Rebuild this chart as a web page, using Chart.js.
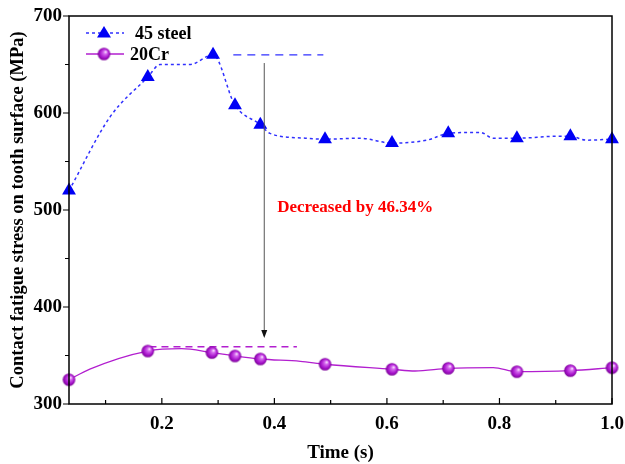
<!DOCTYPE html>
<html>
<head>
<meta charset="utf-8">
<script src="https://cdn.jsdelivr.net/npm/chart.js@4"></script>
<style>
html,body{margin:0;padding:0;background:#fff;}
#wrap{width:625px;height:464px;position:relative;}
</style>
</head>
<body>
<div id="wrap"><canvas id="c" width="625" height="464"></canvas></div>
<script>
// ---- data ----
const steelTime   = [0.035, 0.108, 0.175, 0.197, 0.250, 0.291, 0.330, 0.375, 0.392, 0.455, 0.490, 0.552, 0.609, 0.671, 0.709, 0.766, 0.789, 0.831, 0.903, 0.926, 0.955, 1.0];
const steelStress = [520, 596, 637, 650, 650, 660, 608, 588, 579, 574, 573, 574, 569, 572, 579, 580, 574, 574, 576, 576, 572, 573];
const steelMarkerTimes = [0.035, 0.175, 0.291, 0.330, 0.375, 0.490, 0.609, 0.709, 0.831, 0.926, 1.0];

const crTime   = [0.035, 0.072, 0.175, 0.235, 0.289, 0.330, 0.375, 0.446, 0.490, 0.609, 0.650, 0.709, 0.789, 0.831, 0.926, 1.0];
const crStress = [325, 336, 354.6, 357, 353, 349.5, 346.4, 344, 341, 335.8, 334, 336.8, 337.5, 333.3, 334.4, 337.4];
const crMarkerTimes = [0.035, 0.175, 0.289, 0.330, 0.375, 0.490, 0.609, 0.709, 0.831, 0.926, 1.0];

const steelPeakTime = [0.327, 0.487];
const steelPeakValue = [660, 660];
const crPeakTime = [0.178, 0.44];
const crPeakValue = [359, 359];
const arrowTime = [0.382, 0.382];
const arrowValue = [651.5, 368];

const seriesNames = ['45 steel', '20Cr'];
const annotationText = 'Decreased by 46.34%';
const annotationPoint = [0.405, 502];

const xTickValues = [0.2, 0.4, 0.6, 0.8, 1.0];
const xTickLabels = ['0.2', '0.4', '0.6', '0.8', '1.0'];
const xMinorValues = [0.1, 0.3, 0.5, 0.7, 0.9];
const yTickValues = [300, 400, 500, 600, 700];
const yTickLabels = ['300', '400', '500', '600', '700'];
const yMinorValues = [350, 450, 550, 650];

// ---- styling ----
const FONT = 'Liberation Serif';
const BLUE = '#0000F5';
const BLUE_LINE = '#3030FF';
const PURPLE = '#B21FCF';

function makeSphere(r) {
  const c = document.createElement('canvas');
  const s = Math.ceil(r * 2 + 2);
  c.width = s; c.height = s;
  const g = c.getContext('2d');
  const cx = s / 2, cy = s / 2;
  const grad = g.createRadialGradient(cx + r * 0.3, cy - r * 0.35, r * 0.05, cx, cy, r);
  grad.addColorStop(0, '#FBE6FF');
  grad.addColorStop(0.25, '#D56AEE');
  grad.addColorStop(0.7, '#A814CC');
  grad.addColorStop(1, '#7A0596');
  g.fillStyle = grad;
  g.beginPath(); g.arc(cx, cy, r, 0, Math.PI * 2); g.fill();
  return c;
}
const sphere = makeSphere(6.3);

const zip = (xs, ys) => xs.map((x, i) => ({x: x, y: ys[i]}));

const frameAndTicks = {
  id: 'frameAndTicks',
  afterDatasetsDraw(chart) {
    const {ctx, chartArea: a, scales} = chart;
    const xs = scales.x, ys = scales.y;
    ctx.save();
    ctx.strokeStyle = '#000';
    ctx.lineWidth = 1.5;
    ctx.strokeRect(a.left, a.top, a.right - a.left, a.bottom - a.top);
    ctx.lineWidth = 1.2;
    ctx.beginPath();
    xTickValues.forEach(v => { const px = xs.getPixelForValue(v); ctx.moveTo(px, a.bottom); ctx.lineTo(px, a.bottom - 6); });
    xMinorValues.forEach(v => { const px = xs.getPixelForValue(v); ctx.moveTo(px, a.bottom); ctx.lineTo(px, a.bottom - 4); });
    yTickValues.forEach(v => { const py = ys.getPixelForValue(v); ctx.moveTo(a.left, py); ctx.lineTo(a.left - 6, py); });
    yMinorValues.forEach(v => { const py = ys.getPixelForValue(v); ctx.moveTo(a.left, py); ctx.lineTo(a.left - 4, py); });
    ctx.stroke();

    // arrow
    const ax = xs.getPixelForValue(arrowTime[0]);
    const ay0 = ys.getPixelForValue(arrowValue[0]);
    const ay1 = ys.getPixelForValue(arrowValue[1]);
    ctx.strokeStyle = '#555';
    ctx.lineWidth = 1;
    ctx.beginPath(); ctx.moveTo(ax, ay0); ctx.lineTo(ax, ay1 - 2); ctx.stroke();
    ctx.fillStyle = '#111';
    ctx.beginPath(); ctx.moveTo(ax, ay1); ctx.lineTo(ax - 3, ay1 - 8); ctx.lineTo(ax + 3, ay1 - 8); ctx.closePath(); ctx.fill();

    // annotation text
    ctx.fillStyle = '#FF0000';
    ctx.font = 'bold 17px ' + FONT;
    ctx.textAlign = 'left';
    ctx.textBaseline = 'middle';
    ctx.fillText(annotationText, xs.getPixelForValue(annotationPoint[0]), ys.getPixelForValue(annotationPoint[1]));

    // legend
    const lx0 = 86, lx1 = 124, lmx = 104;
    const rows = [33, 54];
    ctx.font = 'bold 18px ' + FONT;
    ctx.fillStyle = '#000';
    ctx.strokeStyle = BLUE_LINE; ctx.lineWidth = 1.5; ctx.setLineDash([3, 3]);
    ctx.beginPath(); ctx.moveTo(lx0, rows[0]); ctx.lineTo(lx1, rows[0]); ctx.stroke();
    ctx.setLineDash([]);
    ctx.fillStyle = BLUE;
    ctx.beginPath(); ctx.moveTo(lmx, rows[0] - 7); ctx.lineTo(lmx + 7, rows[0] + 4.5); ctx.lineTo(lmx - 7, rows[0] + 4.5); ctx.closePath(); ctx.fill();
    ctx.strokeStyle = PURPLE; ctx.lineWidth = 1.3;
    ctx.beginPath(); ctx.moveTo(lx0, rows[1]); ctx.lineTo(lx1, rows[1]); ctx.stroke();
    ctx.drawImage(sphere, lmx - sphere.width / 2, rows[1] - sphere.height / 2);
    ctx.fillStyle = '#000';
    ctx.fillText(seriesNames[0], 135, rows[0] + 1);
    ctx.fillText(seriesNames[1], 130, rows[1] + 1);
    ctx.restore();
  }
};

new Chart(document.getElementById('c'), {
  type: 'line',
  data: {
    datasets: [
      {
        label: seriesNames[0],
        data: zip(steelTime, steelStress),
        borderColor: BLUE_LINE,
        borderWidth: 1.5,
        borderDash: [3, 3],
        cubicInterpolationMode: 'monotone',
        pointStyle: 'triangle',
        pointRadius: ctx => steelMarkerTimes.includes(ctx.raw.x) ? 8 : 0,
        pointBackgroundColor: BLUE,
        pointBorderColor: BLUE,
        pointBorderWidth: 0,
        fill: false,
        order: 2
      },
      {
        label: seriesNames[1],
        data: zip(crTime, crStress),
        borderColor: PURPLE,
        borderWidth: 1.3,
        cubicInterpolationMode: 'monotone',
        pointStyle: sphere,
        pointRadius: ctx => crMarkerTimes.includes(ctx.raw.x) ? 6 : 0,
        fill: false,
        order: 2
      },
      {
        label: 'steel peak',
        data: zip(steelPeakTime, steelPeakValue),
        borderColor: BLUE_LINE,
        borderWidth: 1.3,
        borderDash: [8, 6],
        pointRadius: 0,
        fill: false,
        order: 3
      },
      {
        label: 'cr peak',
        data: zip(crPeakTime, crPeakValue),
        borderColor: PURPLE,
        borderWidth: 1.3,
        borderDash: [7, 5],
        pointRadius: 0,
        fill: false,
        order: 3
      }
    ]
  },
  options: {
    responsive: false,
    animation: false,
    clip: false,
    layout: { padding: { top: 16, right: 13, left: 0, bottom: 0 } },
    plugins: { legend: { display: false }, tooltip: { enabled: false } },
    scales: {
      x: {
        type: 'linear',
        min: 0.035,
        max: 1.0,
        afterBuildTicks: s => { s.ticks = xTickValues.map(v => ({value: v})); },
        afterFit: s => { s.height = 60; s.paddingLeft = 0; s.paddingRight = 0; },
        grid: { display: false, drawTicks: false },
        border: { display: false },
        ticks: {
          callback: (v) => { const i = xTickValues.indexOf(v); return i >= 0 ? xTickLabels[i] : ''; },
          font: { family: FONT, size: 19, weight: 'bold' },
          color: '#000',
          padding: 9,
          maxRotation: 0,
          autoSkip: false
        },
        title: {
          display: true,
          text: 'Time (s)',
          font: { family: FONT, size: 19, weight: 'bold' },
          color: '#000',
          padding: { top: 5, bottom: 0 }
        }
      },
      y: {
        min: 300,
        max: 700,
        afterBuildTicks: s => { s.ticks = yTickValues.map(v => ({value: v})); },
        afterFit: s => { s.width = 69; s.paddingTop = 0; s.paddingBottom = 0; },
        grid: { display: false, drawTicks: false },
        border: { display: false },
        ticks: {
          callback: (v) => { const i = yTickValues.indexOf(v); return i >= 0 ? yTickLabels[i] : ''; },
          font: { family: FONT, size: 19, weight: 'bold' },
          color: '#000',
          padding: 7
        },
        title: {
          display: true,
          text: 'Contact fatigue stress on tooth surface (MPa)',
          font: { family: FONT, size: 18.5, weight: 'bold' },
          color: '#000',
          padding: { top: 7, bottom: 0 }
        }
      }
    }
  },
  plugins: [frameAndTicks]
});
</script>
</body>
</html>
